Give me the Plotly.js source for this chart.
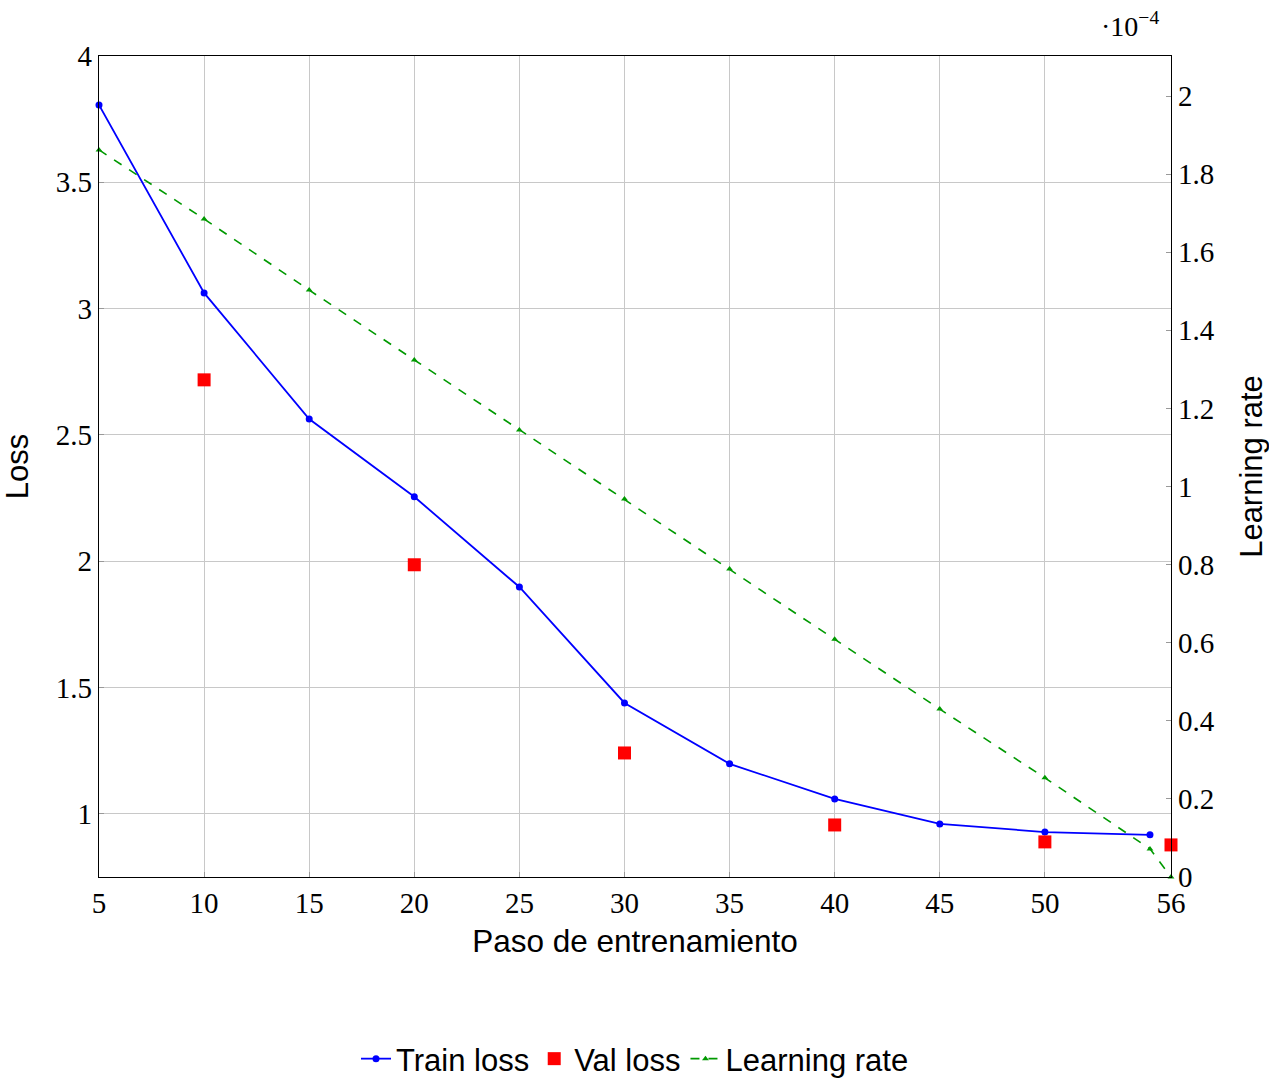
<!DOCTYPE html>
<html>
<head>
<meta charset="utf-8">
<script src="https://cdn.plot.ly/plotly-3.0.1.min.js"></script>
<style>html,body{margin:0;padding:0;background:#fff;}#chart{width:1269px;height:1086px;}</style>
</head>
<body>
<div id="chart"></div>
<script>
// Data
const trainSteps = [5, 10, 15, 20, 25, 30, 35, 40, 45, 50, 55];
const trainLoss  = [3.806, 3.062, 2.563, 2.255, 1.898, 1.439, 1.198, 1.059, 0.960, 0.928, 0.917];
const valSteps   = [10, 20, 30, 40, 50, 56];
const valLoss    = [2.718, 1.986, 1.241, 0.956, 0.889, 0.877];
const lrSteps    = [5, 10, 15, 20, 25, 30, 35, 40, 45, 50, 55, 56];
const lrValues   = [1.862e-4, 1.685e-4, 1.503e-4, 1.324e-4, 1.145e-4, 0.968e-4, 0.789e-4, 0.609e-4, 0.430e-4, 0.254e-4, 0.072e-4, 0];
const xTicks     = [5, 10, 15, 20, 25, 30, 35, 40, 45, 50, 56];
const yTicks     = [1, 1.5, 2, 2.5, 3, 3.5, 4];
const y2Ticks    = [0, 0.2e-4, 0.4e-4, 0.6e-4, 0.8e-4, 1e-4, 1.2e-4, 1.4e-4, 1.6e-4, 1.8e-4, 2e-4];
const y2TickText = ['0', '0.2', '0.4', '0.6', '0.8', '1', '1.2', '1.4', '1.6', '1.8', '2'];

const serif = 'Liberation Serif, DejaVu Serif, serif';
const sans = 'Liberation Sans, Arial, sans-serif';

const traces = [
  {x: trainSteps, y: trainLoss, name: 'Train loss', mode: 'lines+markers', yaxis: 'y', cliponaxis: false,
   line: {color: '#0000ff', width: 1.8}, marker: {color: '#0000ff', size: 7, symbol: 'circle'}},
  {x: valSteps, y: valLoss, name: 'Val loss', mode: 'markers', yaxis: 'y', cliponaxis: false,
   marker: {color: '#ff0000', size: 13, symbol: 'square'}},
  {x: lrSteps, y: lrValues, name: 'Learning rate', mode: 'lines+markers', yaxis: 'y2', cliponaxis: false,
   line: {color: '#009900', width: 1.6, dash: 'dash'}, marker: {color: '#009900', size: 6, symbol: 'triangle-up'}}
];

const layout = {
  width: 1269, height: 1086,
  margin: {l: 99, r: 98, t: 56, b: 209, autoexpand: false},
  paper_bgcolor: '#fff', plot_bgcolor: '#fff',
  showlegend: true,
  legend: {orientation: 'h', x: 0.5, xanchor: 'center', yref: 'container', y: 0.0, yanchor: 'bottom',
           font: {family: sans, size: 31, color: '#000'}, itemwidth: 30, tracegroupgap: 0},
  xaxis: {range: [5, 56], tickvals: xTicks, ticktext: xTicks.map(String), automargin: false,
          showgrid: true, gridcolor: '#c8c8c8', gridwidth: 1,
          showline: true, linecolor: '#000', linewidth: 1.3, mirror: true,
          ticks: 'inside', ticklen: 5, tickcolor: '#999', zeroline: false,
          tickfont: {family: serif, size: 29, color: '#000'},
          title: {text: 'Paso de entrenamiento', font: {family: sans, size: 31.5, color: '#000'}, standoff: 12}},
  yaxis: {range: [0.75, 4], tickvals: yTicks, ticktext: yTicks.map(String), automargin: false,
          showgrid: true, gridcolor: '#c8c8c8', gridwidth: 1,
          showline: true, linecolor: '#000', linewidth: 1.3, mirror: false,
          ticks: 'inside', ticklen: 5, tickcolor: '#999', zeroline: false,
          tickfont: {family: serif, size: 29, color: '#000'},
          title: {text: 'Loss', font: {family: sans, size: 31, color: '#000'}, standoff: 19}},
  yaxis2: {range: [0, 2.1025e-4], overlaying: 'y', side: 'right', automargin: false,
           tickvals: y2Ticks, ticktext: y2TickText,
           showgrid: false, showline: true, linecolor: '#000', linewidth: 1.3,
           ticks: 'inside', ticklen: 5, tickcolor: '#999', zeroline: false,
           tickfont: {family: serif, size: 29, color: '#000'},
           title: {text: 'Learning rate', font: {family: sans, size: 31, color: '#000'}, standoff: 28}},
  annotations: [{xref: 'paper', yref: 'paper', x: 1.0, y: 1.0, xanchor: 'right', yanchor: 'bottom',
                 xshift: -10, yshift: 12, showarrow: false,
                 text: '·10<sup>−4</sup>', font: {family: serif, size: 28, color: '#000'}}]
};

Plotly.newPlot('chart', traces, layout, {displayModeBar: false, staticPlot: true});
</script>
</body>
</html>
